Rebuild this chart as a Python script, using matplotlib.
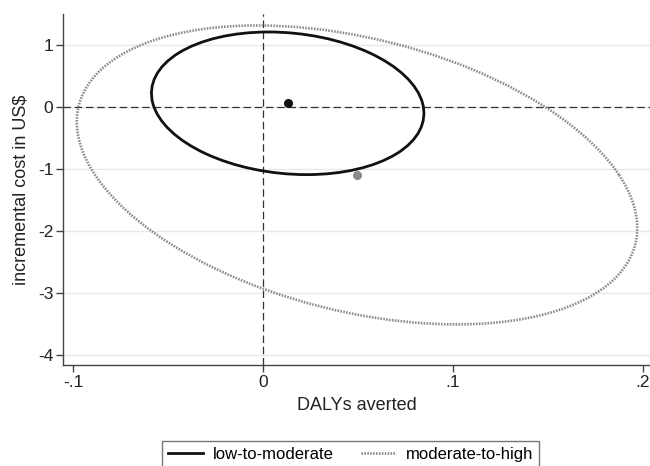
"""Cost-effectiveness plane with confidence ellipses"""
import numpy as np
import matplotlib
matplotlib.use("Agg")
from matplotlib import pyplot as plt
from matplotlib.patches import Ellipse
from matplotlib.lines import Line2D

plt.rcParams['font.family'] = ['Liberation Sans', 'DejaVu Sans']

# groups and their point estimates / spread
groups = ['low-to-moderate', 'moderate-to-high']
center_x = [0.013, 0.0495]      # DALYs averted
center_y = [0.06, -1.095]       # incremental cost in US$
sd_x = [0.0717, 0.1475]
sd_y = [1.15, 2.41]
rho = [-0.14, -0.355]
colors = ['#111111', '#8a8a8a']
styles = ['-', (0, (0.6, 0.5))]
widths = [2.0, 1.9]

x_ticks = [-0.1, 0, 0.1, 0.2]
x_tick_labels = ['-.1', '0', '.1', '.2']
y_ticks = [1, 0, -1, -2, -3, -4]

fig = plt.figure(figsize=(6.5, 4.66), dpi=100)
ax = fig.add_axes([63 / 650, 1 - 365 / 466, 587 / 650, 351 / 466])

for i in range(len(groups)):
    cov = np.array([[sd_x[i] ** 2, rho[i] * sd_x[i] * sd_y[i]],
                    [rho[i] * sd_x[i] * sd_y[i], sd_y[i] ** 2]])
    vals, vecs = np.linalg.eigh(cov)
    angle = np.degrees(np.arctan2(vecs[1, 1], vecs[0, 1]))
    e = Ellipse((center_x[i], center_y[i]), 2 * np.sqrt(vals[1]), 2 * np.sqrt(vals[0]),
                angle=angle, fill=False, edgecolor=colors[i], linestyle=styles[i],
                linewidth=widths[i], zorder=3)
    ax.add_patch(e)
    ax.plot(center_x[i], center_y[i], 'o', color=colors[i], markersize=5.5, zorder=4)

ax.axhline(0, color='#333333', lw=0.9, dashes=(6, 3), zorder=2)
ax.axvline(0, color='#333333', lw=0.9, dashes=(6, 3), zorder=2)

ax.set_xlim(-0.10526, 0.2037)
ax.set_ylim(-4.16, 1.5)
ax.set_xticks(x_ticks)
ax.set_xticklabels(x_tick_labels)
ax.set_yticks(y_ticks)
ax.set_yticklabels([str(v) for v in y_ticks])
ax.yaxis.grid(True, color='#e8e8e8', lw=1.0)
ax.set_axisbelow(True)

for s in ['top', 'right']:
    ax.spines[s].set_visible(False)
for s in ['left', 'bottom']:
    ax.spines[s].set_color('#444444')
    ax.spines[s].set_linewidth(1.0)
ax.tick_params(length=5, width=1, color='#444444', labelsize=12.5, pad=2, labelcolor='#222222')

ax.set_xlabel('DALYs averted', fontsize=13, color='#222222', labelpad=5)
ax.set_ylabel(r'incremental cost in US\$', fontsize=13, color='#222222', labelpad=6)

handles = [Line2D([], [], color=colors[i], linestyle=styles[i], lw=widths[i]) for i in range(2)]
fig.legend(handles, groups, loc='upper center', bbox_to_anchor=(350.5 / 650, 1 - 433 / 466),
           ncol=2, frameon=True, fancybox=False, edgecolor='#555555', fontsize=12,
           handlelength=2.1, handletextpad=0.6, columnspacing=1.6, borderpad=0.35)

fig.savefig('out.png', dpi=100)
